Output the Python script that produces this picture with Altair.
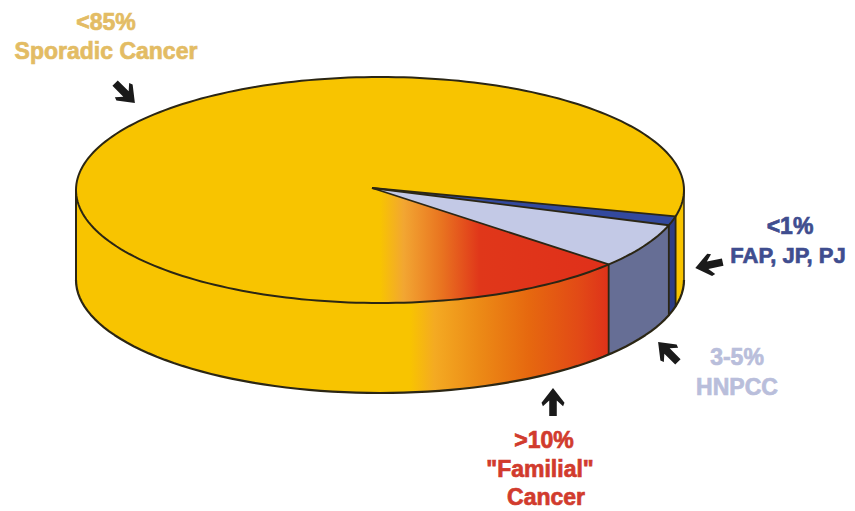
import math
import altair as alt
import pandas as pd

# Pie geometry (page pixels)
CX, CY, RX, RY, DEPTH = 380, 190, 304, 113, 90
APEX = (372, 188)

# Sector sizes in percent of the drawn ellipse, clockwise from the right edge
slices = ["FAP, JP, PJ", "HNPCC", "Familial", "Sporadic"]
shares = [1.3, 6.4, 12.8, 79.5]
start_deg = 13.5

labels = [
    ("<85%", 106, 23, "#e3bc64", 23), ("Sporadic Cancer", 106, 52, "#e3bc64", 23),
    ("<1%", 790, 227, "#3f4d8f", 23), ("FAP, JP, PJ", 788, 256, "#3f4d8f", 22),
    ("3-5%", 737, 358, "#b9bedb", 23), ("HNPCC", 737, 388, "#b9bedb", 23),
    (">10%", 544, 441, "#d13b2d", 23), ('"Familial"', 540, 470, "#d13b2d", 23), ("Cancer", 546, 498, "#d13b2d", 23),
]
arrows_x = [125, 709, 668, 553]
arrows_y = [93, 265, 352, 402]
arrows_angle = [135, 258, 315, 0]

cum = [start_deg]
for s in shares:
    cum.append(cum[-1] + s * 3.6)
navy_a, lav_a, red_a, grad_a = cum[0], cum[1], cum[2], cum[3]

def rim(a0, a1, dy=0, n=80):
    pts = []
    for i in range(n + 1):
        a = math.radians(a0 + (a1 - a0) * i / n)
        pts.append((CX + RX * math.cos(a), CY + RY * math.sin(a) + dy))
    return pts

def table(pts):
    return pd.DataFrame({"x": [p[0] for p in pts], "y": [p[1] for p in pts], "o": range(len(pts))})

X = alt.X("x:Q", scale=alt.Scale(domain=[8, 847]), axis=None)
Y = alt.Y("y:Q", scale=alt.Scale(domain=[511, 8]), axis=None)

def poly(pts, fill, stroke=None, sw=0.0):
    pts = list(pts) + [pts[0]]
    kw = {"fill": fill, "strokeWidth": sw, "strokeJoin": "round", "clip": False}
    kw["stroke"] = stroke if stroke else "transparent"
    return alt.Chart(table(pts)).mark_line(**kw).encode(x=X, y=Y, order="o:Q")

def path(pts, sw=2.0, stroke="#2b2614"):
    return alt.Chart(table(pts)).mark_line(stroke=stroke, strokeWidth=sw, strokeJoin="round").encode(x=X, y=Y, order="o:Q")

def wall(a0, a1):
    return rim(a0, a1) + rim(a1, a0, DEPTH)

def grad(stops):
    x0, x1 = stops[0][0], stops[-1][0]
    return alt.Gradient(gradient="linear", x1=0, x2=1, y1=0, y2=0,
                        stops=[alt.GradientStop(offset=(x - x0) / (x1 - x0), color=c) for x, c in stops])

YEL = "#f8c400"
layers = []
# side wall
layers.append(poly(wall(0, 180), YEL))
side_x0 = CX + RX * math.cos(math.radians(grad_a + 8))
layers.append(poly(wall(red_a, grad_a + 8), grad([
    (side_x0, YEL), (410, YEL), (435, "#f4aa22"), (480, "#ec8a16"), (530, "#e6680f"), (580, "#e24a16"), (610, "#de321a")])))
layers.append(poly(wall(lav_a, red_a), "#666e95"))
layers.append(poly(wall(navy_a, lav_a), "#2c3d85"))
# outer wall outline
layers.append(path(rim(0, 180, DEPTH), 2.2))
layers.append(path([(CX - RX, CY), (CX - RX, CY + DEPTH)], 2.0))
layers.append(path([(CX + RX, CY), (CX + RX, CY + DEPTH)], 1.5))
# wall dividers
for a in (red_a, lav_a, navy_a):
    pa = rim(a, a, 0, 1)[0]
    layers.append(path([pa, (pa[0], pa[1] + DEPTH)], 1.8))
# top face
layers.append(poly(rim(0, 360, 0, 240), YEL))
red_pts = [APEX] + rim(red_a, grad_a + 8)
layers.append(poly(red_pts, grad([
    (APEX[0], YEL), (398, YEL), (420, "#f2a632"), (455, "#e97420"), (490, "#e0371a"), (610, "#e0301a")])))
layers.append(poly([APEX] + rim(lav_a, red_a), "#c3c9e6"))
layers.append(poly([APEX] + rim(navy_a, lav_a), "#33499e"))
layers.append(path(rim(0, 360, 0, 240), 2.0))
for a in (navy_a, lav_a, red_a):
    layers.append(path([APEX, rim(a, a, 0, 1)[0]], 1.8))

# arrows
arrow = "M0,-1L0.82,0.05L0.72,0.3L0.27,-0.1L0.27,1L-0.27,1L-0.27,-0.1L-0.72,0.3L-0.82,0.05Z"
adf = pd.DataFrame({"x": arrows_x, "y": arrows_y, "a": arrows_angle})
layers.append(alt.Chart(adf).mark_point(shape=arrow, filled=True, color="#1a1a1a", size=784, opacity=1).encode(
    x=X, y=Y, angle=alt.Angle("a:Q", scale=None)))

# labels
ldf = pd.DataFrame(labels, columns=["t", "x", "y", "c", "s"])
for size, part in ldf.groupby("s"):
    layers.append(alt.Chart(part).mark_text(font="Liberation Sans", fontWeight="bold", fontSize=int(size), baseline="middle", align="center", strokeWidth=0.7).encode(
        x=X, y=Y, text="t:N", color=alt.Color("c:N", scale=None), stroke=alt.Stroke("c:N", scale=None)))

chart = alt.layer(*layers).properties(width=839, height=503, padding=0, autosize=alt.AutoSizeParams(type="none")).configure_view(stroke=None)
chart.save("out.html", embed_options={"renderer": "svg", "actions": False})
